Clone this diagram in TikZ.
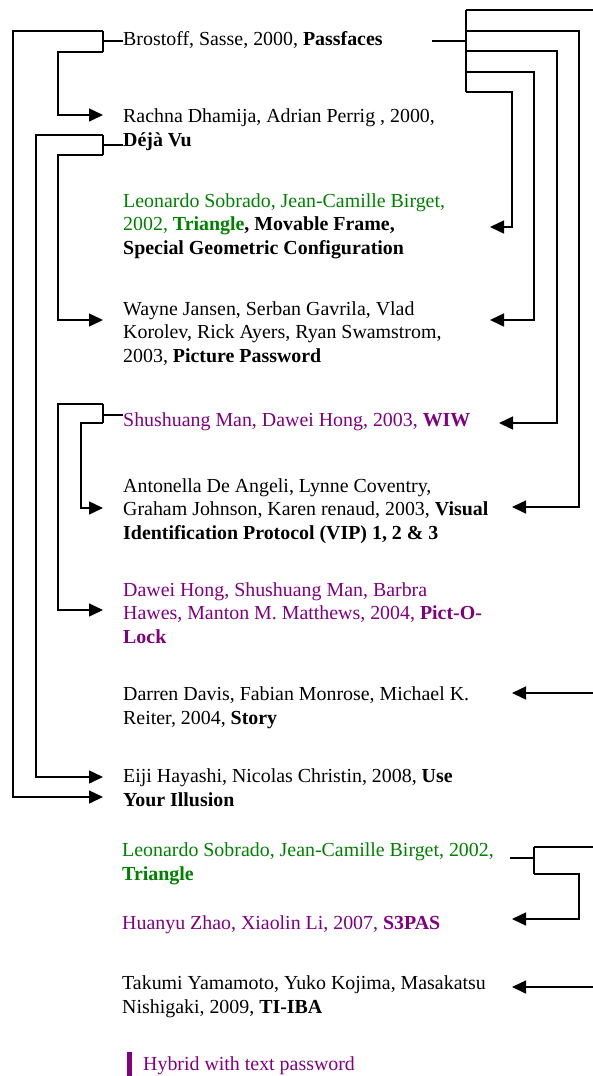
\documentclass[tikz,border=0pt]{standalone}
\usepackage{fontspec}
\setmainfont{Liberation Serif}
\usetikzlibrary{arrows.meta}
\definecolor{tgreen}{RGB}{0,128,0}
\definecolor{tpurple}{RGB}{128,0,128}
\begin{document}
\begin{tikzpicture}[x=1pt,y=-1pt,
  entry/.style={anchor=base west, inner sep=0pt, align=left, font=\fontsize{19.9}{23.5}\selectfont},
  link/.style={line width=1.5pt},
  arr/.style={link, -{Triangle[length=14pt,width=13pt]}}]
\useasboundingbox (0,0) rectangle (593,1076);
% ---- entries (anchor = baseline of last line)
\node[entry] (bro) at (123,45) {Brostoff, Sasse, 2000, \textbf{Passfaces}};
\node[entry] (rac) at (123,146) {Rachna Dhamija, Adrian Perrig , 2000,\\\textbf{Déjà Vu}};
\node[entry] (leo) at (123,254) {\textcolor{tgreen}{Leonardo Sobrado, Jean-Camille Birget,}\\\textcolor{tgreen}{2002, \textbf{Triangle}}\textbf{, Movable Frame,}\\\textbf{Special Geometric Configuration}};
\node[entry] (way) at (123,362) {Wayne Jansen, Serban Gavrila, Vlad\\Korolev, Rick Ayers, Ryan Swamstrom,\\2003, \textbf{Picture Password}};
\node[entry, text=tpurple] (shu) at (123,426) {Shushuang Man, Dawei Hong, 2003, \textbf{WIW}};
\node[entry] (ant) at (123,539) {Antonella De Angeli, Lynne Coventry,\\Graham Johnson, Karen renaud, 2003, \textbf{Visual}\\\textbf{Identification Protocol (VIP) 1, 2 \& 3}};
\node[entry, text=tpurple] (daw) at (123,643) {Dawei Hong, Shushuang Man, Barbra\\Hawes, Manton M. Matthews, 2004, \textbf{Pict-O-}\\\textbf{Lock}};
\node[entry] (dar) at (123,724) {Darren Davis, Fabian Monrose, Michael K.\\Reiter, 2004, \textbf{Story}};
\node[entry] (eij) at (123,806) {Eiji Hayashi, Nicolas Christin, 2008, \textbf{Use}\\\textbf{Your Illusion}};
\node[entry, text=tgreen] (leo2) at (122,880) {Leonardo Sobrado, Jean-Camille Birget, 2002,\\\textbf{Triangle}};
\node[entry, text=tpurple] (hua) at (122,929) {Huanyu Zhao, Xiaolin Li, 2007, \textbf{S3PAS}};
\node[entry] (tak) at (122,1013) {Takumi Yamamoto, Yuko Kojima, Masakatsu\\Nishigaki, 2009, \textbf{TI-IBA}};
\fill[tpurple] (127,1052) rectangle (132,1076);
\node[entry, text=tpurple] (hyb) at (143,1070) {Hybrid with text password};
% ---- left connectors
\draw[link] (103,41) -- (123,41);
\draw[link] (103,31) -- (103,52);
\draw[arr] (103,31) -- (13,31) -- (13,797) -- (103,797);
\draw[arr] (103,52) -- (58,52) -- (58,115) -- (103,115);
\draw[link] (103,145) -- (123,145);
\draw[link] (103,135) -- (103,155);
\draw[arr] (103,135) -- (36,135) -- (36,777) -- (103,777);
\draw[arr] (103,155) -- (58,155) -- (58,320) -- (103,320);
\draw[link] (103,415) -- (123,415);
\draw[link] (103,404) -- (103,423);
\draw[arr] (103,404) -- (58,404) -- (58,610) -- (103,610);
\draw[arr] (103,423) -- (81,423) -- (81,508) -- (103,508);
% ---- right connectors
\draw[link] (432,41) -- (466,41);
\draw[link] (466,10) -- (466,92);
\draw[link] (466,10) -- (593,10);
\draw[arr] (466,31) -- (579,31) -- (579,507) -- (512,507);
\draw[arr] (466,51) -- (557,51) -- (557,423) -- (499,423);
\draw[arr] (466,72) -- (534,72) -- (534,320) -- (490,320);
\draw[arr] (466,92) -- (512,92) -- (512,227) -- (490,227);
\draw[arr] (593,693) -- (512,693);
\draw[link] (510,858) -- (534,858);
\draw[link] (534,847) -- (534,874);
\draw[link] (534,847) -- (593,847);
\draw[arr] (534,874) -- (579,874) -- (579,919) -- (512,919);
\draw[arr] (593,987) -- (512,987);
\end{tikzpicture}
\end{document}
